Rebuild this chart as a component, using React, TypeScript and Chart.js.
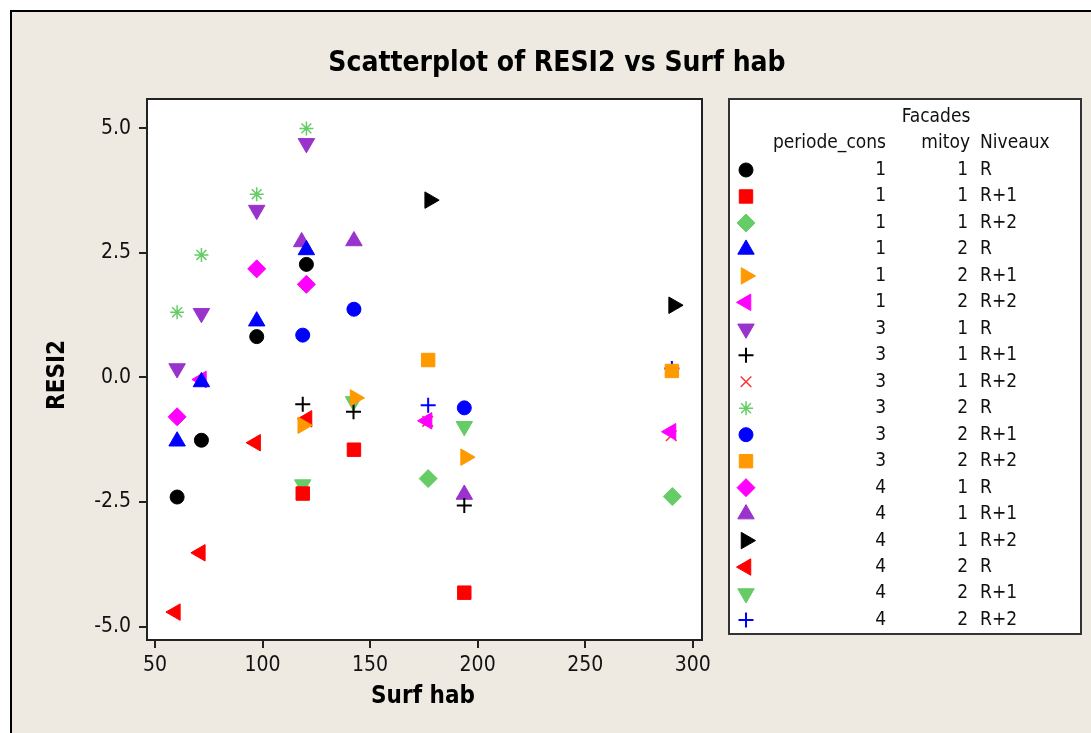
import React, { useEffect, useRef } from 'react';
import { Chart, registerables } from 'chart.js';
import { drawPoint } from 'chart.js/helpers';

Chart.register(...registerables);

const W = 1091;
const H = 733;
const FONT = "'DejaVu Sans Condensed', 'DejaVu Sans', sans-serif";

const chartTitle = 'Scatterplot of RESI2 vs Surf hab';
const xAxisTitle = 'Surf hab';
const yAxisTitle = 'RESI2';
const legendTitle = 'Facades';
const legendHeaders = ['periode_cons', 'mitoy', 'Niveaux'];

const xTicks = [50, 100, 150, 200, 250, 300];
const yTicks = [-5, -2.5, 0, 2.5, 5];

const periodeCons = ['1', '1', '1', '1', '1', '1', '3', '3', '3', '3', '3', '3', '4', '4', '4', '4', '4', '4'];
const mitoy = ['1', '1', '1', '2', '2', '2', '1', '1', '1', '2', '2', '2', '1', '1', '1', '2', '2', '2'];
const niveaux = ['R', 'R+1', 'R+2', 'R', 'R+1', 'R+2', 'R', 'R+1', 'R+2', 'R', 'R+1', 'R+2', 'R', 'R+1', 'R+2', 'R', 'R+1', 'R+2'];

// Surf hab (x) and RESI2 (y) per group
const s01x = [60.3, 71.6, 97.3, 120.4];
const s01y = [-2.4, -1.26, 0.82, 2.27];
const s02x = [118.7, 142.5, 193.8];
const s02y = [-2.33, -1.45, -4.32];
const s03x = [177.0, 290.5];
const s03y = [-2.03, -2.39];
const s04x = [60.3, 71.6, 97.3, 120.4];
const s04y = [-1.28, -0.09, 1.13, 2.56];
const s05x = [118.7, 143.0, 194.4];
const s05y = [-0.96, -0.41, -1.6];
const s06x = [71.6, 176.5, 289.9];
const s06y = [-0.04, -0.87, -1.09];
const s07x = [60.3, 71.6, 97.3, 120.4];
const s07y = [0.18, 1.29, 3.36, 4.7];
const s08x = [118.7, 142.3, 193.8];
const s08y = [-0.54, -0.69, -2.57];
const s09x = [176.8, 290.0];
const s09y = [-0.88, -1.17];
const s10x = [60.3, 71.6, 97.3, 120.4];
const s10y = [1.31, 2.46, 3.68, 5.0];
const s11x = [118.7, 142.5, 193.8];
const s11y = [0.85, 1.37, -0.61];
const s12x = [177.0, 290.3];
const s12y = [0.35, 0.13];
const s13x = [60.3, 97.3, 120.4];
const s13y = [-0.79, 2.18, 1.87];
const s14x = [118.2, 142.5, 193.8];
const s14y = [2.72, 2.74, -2.35];
const s15x = [177.7, 291.1];
const s15y = [3.56, 1.45];
const s16x = [59.5, 71.1, 96.8, 120.7];
const s16y = [-4.71, -3.52, -1.31, -0.83];
const s17x = [118.7, 142.3, 193.8];
const s17y = [-2.15, -0.48, -0.98];
const s18x = [177.0, 290.3];
const s18y = [-0.56, 0.18];

const seriesX = [s01x, s02x, s03x, s04x, s05x, s06x, s07x, s08x, s09x, s10x, s11x, s12x, s13x, s14x, s15x, s16x, s17x, s18x];
const seriesY = [s01y, s02y, s03y, s04y, s05y, s06y, s07y, s08y, s09y, s10y, s11y, s12y, s13y, s14y, s15y, s16y, s17y, s18y];

const BLACK = '#000000';
const RED = '#FF0000';
const GREEN = '#66CC66';
const BLUE = '#0000FF';
const ORANGE = '#FF9900';
const MAGENTA = '#FF00FF';
const PURPLE = '#9933CC';

const colors = [BLACK, RED, GREEN, BLUE, ORANGE, MAGENTA, PURPLE, BLACK, '#FF3333', GREEN, BLUE, ORANGE, MAGENTA, PURPLE, BLACK, RED, GREEN, BLUE];
const shapes = ['circle', 'rect', 'rectRot', 'triangle', 'triangle', 'triangle', 'triangle', 'cross', 'crossRot', 'star', 'circle', 'rect', 'rectRot', 'triangle', 'triangle', 'triangle', 'triangle', 'cross'];
const rotations = [0, 0, 0, 0, 90, -90, 180, 0, 0, 0, 0, 0, 0, 0, 90, -90, 180, 0];
const radii = [7, 9.5, 9, 9.5, 9.5, 9.5, 9.5, 7.5, 7.5, 7, 7, 9.5, 9, 9.5, 9.5, 9.5, 9.5, 7.5];
const borders = [1, 1, 1, 1, 1, 1, 1, 2, 1.5, 1.5, 1, 1, 1, 1, 1, 1, 1, 2];

const BEIGE = '#EEEAE1';
const AXIS = '#222222';

const decor = {
  id: 'decor',
  beforeDraw(chart: any) {
    const { ctx, chartArea: a } = chart;
    ctx.save();
    ctx.fillStyle = '#ffffff';
    ctx.fillRect(0, 0, W, H);
    ctx.fillStyle = BEIGE;
    ctx.fillRect(11, 11, W - 11, H - 11);
    ctx.strokeStyle = '#000';
    ctx.lineWidth = 2;
    ctx.beginPath();
    ctx.moveTo(11, H);
    ctx.lineTo(11, 11);
    ctx.lineTo(W, 11);
    ctx.stroke();
    ctx.fillStyle = '#ffffff';
    ctx.fillRect(a.left, a.top, a.right - a.left, a.bottom - a.top);
    ctx.restore();
  },
  afterDraw(chart: any) {
    const { ctx, chartArea: a } = chart;
    ctx.save();
    ctx.strokeStyle = AXIS;
    ctx.lineWidth = 2;
    ctx.strokeRect(a.left, a.top, a.right - a.left, a.bottom - a.top);

    // main title
    ctx.fillStyle = '#000';
    ctx.textAlign = 'center';
    ctx.textBaseline = 'middle';
    ctx.font = `bold 28px ${FONT}`;
    ctx.fillText(chartTitle, 557, 64);

    // axis titles
    ctx.font = `bold 24px ${FONT}`;
    ctx.fillText(xAxisTitle, 423, 697);
    ctx.save();
    ctx.translate(58, 375);
    ctx.rotate(-Math.PI / 2);
    ctx.fillText(yAxisTitle, 0, 0);
    ctx.restore();

    // legend box
    const lx = 729, ly = 99, lr = 1081, lb = 634;
    ctx.fillStyle = '#ffffff';
    ctx.fillRect(lx, ly, lr - lx, lb - ly);
    ctx.strokeStyle = '#333';
    ctx.lineWidth = 2;
    ctx.strokeRect(lx, ly, lr - lx, lb - ly);

    ctx.fillStyle = '#111';
    ctx.font = `19px ${FONT}`;
    ctx.textAlign = 'center';
    ctx.fillText(legendTitle, 936, 117);
    ctx.textAlign = 'right';
    ctx.fillText(legendHeaders[0], 886, 143);
    ctx.fillText(legendHeaders[1], 970, 143);
    ctx.textAlign = 'left';
    ctx.fillText(legendHeaders[2], 980, 143);

    for (let i = 0; i < periodeCons.length; i++) {
      const y = 170 + i * 26.47;
      ctx.fillStyle = '#111';
      ctx.textAlign = 'right';
      ctx.fillText(periodeCons[i], 886, y);
      ctx.fillText(mitoy[i], 968, y);
      ctx.textAlign = 'left';
      ctx.fillText(niveaux[i], 980, y);
      ctx.fillStyle = colors[i];
      ctx.strokeStyle = colors[i];
      ctx.lineWidth = borders[i];
      drawPoint(ctx, { pointStyle: shapes[i], rotation: rotations[i], radius: radii[i], borderWidth: borders[i] } as any, 746, y);
    }
    ctx.restore();
  },
};

export default function App() {
  const ref = useRef<HTMLCanvasElement>(null);
  useEffect(() => {
    document.body.style.margin = '0';
    const datasets = seriesX.map((xs, i) => ({
      label: `${periodeCons[i]} ${mitoy[i]} ${niveaux[i]}`,
      data: xs.map((x, j) => ({ x, y: seriesY[i][j] })),
      showLine: false,
      pointStyle: shapes[i],
      pointRotation: rotations[i],
      pointRadius: radii[i],
      pointBorderWidth: borders[i],
      backgroundColor: colors[i],
      borderColor: colors[i],
    }));
    const tickGrid = { drawOnChartArea: false, drawTicks: true, tickLength: 8, color: AXIS, lineWidth: 2 };
    const chart = new Chart(ref.current as HTMLCanvasElement, {
      type: 'scatter',
      data: { datasets } as any,
      plugins: [decor],
      options: {
        animation: false,
        responsive: false,
        layout: { padding: { top: 99, right: 389, left: 0, bottom: 0 } },
        plugins: { legend: { display: false }, tooltip: { enabled: false } },
        scales: {
          x: {
            type: 'linear',
            min: 46.3,
            max: 304.3,
            afterBuildTicks: (s: any) => { s.ticks = xTicks.map((v) => ({ value: v })); },
            afterFit: (s: any) => { s.height = 93; },
            grid: tickGrid,
            border: { display: true, color: AXIS, width: 2 },
            ticks: { font: { family: FONT, size: 21 }, color: '#111', padding: 5, maxRotation: 0, autoSkip: false },
          },
          y: {
            type: 'linear',
            min: -5.27,
            max: 5.59,
            afterBuildTicks: (s: any) => { s.ticks = yTicks.map((v) => ({ value: v })); },
            afterFit: (s: any) => { s.width = 147; },
            grid: tickGrid,
            border: { display: true, color: AXIS, width: 2 },
            ticks: {
              font: { family: FONT, size: 21 },
              color: '#111',
              padding: 8,
              autoSkip: false,
              callback: (v: any) => Number(v).toFixed(1),
            },
          },
        },
      } as any,
    });
    return () => chart.destroy();
  }, []);
  return <canvas ref={ref} width={W} height={H} style={{ display: 'block' }} />;
}
